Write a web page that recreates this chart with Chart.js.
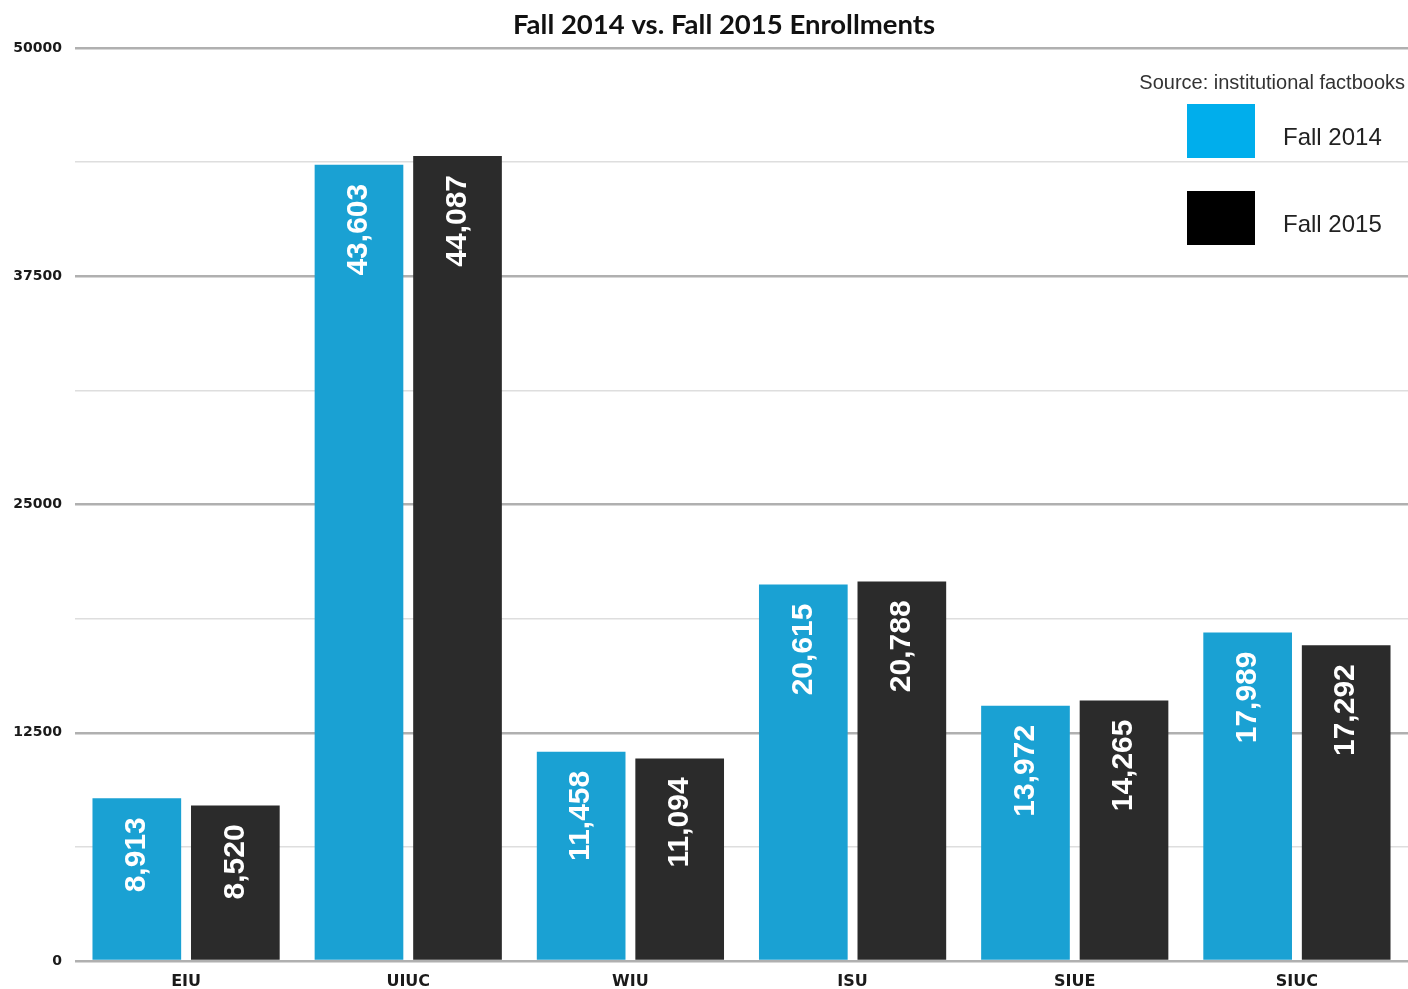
<!DOCTYPE html>
<html>
<head>
<meta charset="utf-8">
<title>Fall 2014 vs. Fall 2015 Enrollments</title>
<script src="https://cdn.jsdelivr.net/npm/chart.js@4.4.1/dist/chart.umd.min.js"></script>
<style>
	html, body { margin: 0; padding: 0; background: #fff; }
	canvas { display: block; }
</style>
</head>
<body>
<canvas id="enrollments" width="1408" height="989"></canvas>
<script>
let schools = ['EIU', 'UIUC', 'WIU', 'ISU', 'SIUE', 'SIUC'];
let fall2014 = [8913, 43603, 11458, 20615, 13972, 17989];
let fall2015 = [8520, 44087, 11094, 20788, 14265, 17292];
let seriesLabels = ['Fall 2014', 'Fall 2015'];
let chartTitle = 'Fall 2014 vs. Fall 2015 Enrollments';
let sourceNote = 'Source: institutional factbooks';

let barColors = ['#1aa1d3', '#2b2b2b'],
	swatchColors = ['#00aeec', '#000000'];

// value labels written upward inside the top of each bar
let barLabels = {
	id : 'barLabels',
	afterDatasetsDraw : function(chart) {
		let ctx = chart.ctx;
		ctx.save();
		ctx.fillStyle = '#ffffff';
		ctx.font = 'bold 30px "Liberation Sans", Arial, sans-serif';
		ctx.textAlign = 'right';
		ctx.textBaseline = 'middle';
		chart.data.datasets.forEach(function(ds, i) {
			chart.getDatasetMeta(i).data.forEach(function(bar, j) {
				ctx.save();
				ctx.translate(bar.x, bar.y + 19);
				ctx.rotate(-Math.PI / 2);
				ctx.fillText(ds.data[j].toLocaleString('en-US'), 0, 0);
				ctx.restore();
			});
		});
		ctx.restore();
	}
};

// title, source note and legend box in the upper right corner
let annotations = {
	id : 'annotations',
	afterDraw : function(chart) {
		let ctx = chart.ctx;
		ctx.save();
		ctx.fillStyle = '#111111';
		ctx.font = 'bold 27.5px Lato, "Open Sans", sans-serif';
		ctx.textAlign = 'center';
		ctx.textBaseline = 'middle';
		ctx.fillText(chartTitle, 724, 25);

		ctx.fillStyle = '#333333';
		ctx.font = '20px "Liberation Sans", Arial, sans-serif';
		ctx.textAlign = 'right';
		ctx.fillText(sourceNote, 1405, 83);

		ctx.textAlign = 'left';
		ctx.font = '24px "Liberation Sans", Arial, sans-serif';
		chart.data.datasets.forEach(function(ds, i) {
			let top = 104 + i * 87;
			ctx.fillStyle = swatchColors[i];
			ctx.fillRect(1187, top, 68, 54);
			ctx.fillStyle = '#222222';
			ctx.fillText(ds.label, 1283, top + 34);
		});
		ctx.restore();
	}
};

let enrollments = document.getElementById('enrollments').getContext('2d');

let chartEnrollments = new Chart(enrollments, {
	type    : 'bar',
	data    : {
		labels   : schools,
		datasets : [
			{
				label              : seriesLabels[0],
				data               : fall2014,
				backgroundColor    : barColors[0],
				categoryPercentage : 0.887,
				barPercentage      : 0.9
			},
			{
				label              : seriesLabels[1],
				data               : fall2015,
				backgroundColor    : barColors[1],
				categoryPercentage : 0.887,
				barPercentage      : 0.9
			}
		]
	},
	options : {
		responsive       : false,
		animation        : false,
		devicePixelRatio : 1,
		layout           : { padding : { left : 0, right : 0, top : 48, bottom : 0 } },
		plugins          : {
			legend  : { display : false },
			tooltip : { enabled : false },
			title   : { display : false }
		},
		scales           : {
			x : {
				afterFit : function(scale) { scale.height = 28; },
				grid     : { display : false, drawTicks : false },
				border   : { display : false },
				ticks    : {
					color   : '#1a1a1a',
					padding : 11,
					font    : { family : '"DejaVu Sans", sans-serif', size : 16, weight : 'bold' }
				}
			},
			y : {
				min      : 0,
				max      : 50000,
				afterFit : function(scale) { scale.width = 75; },
				border   : { display : false },
				grid     : {
					drawTicks : false,
					color     : function(context) {
						return context.tick && context.tick.value % 12500 === 0 ? '#b0b0b0' : '#dedede';
					},
					lineWidth : function(context) {
						return context.tick && context.tick.value % 12500 === 0 ? 2.5 : 1.5;
					}
				},
				ticks    : {
					stepSize : 6250,
					padding  : 13,
					color    : '#1a1a1a',
					font     : { family : '"DejaVu Sans", sans-serif', size : 14, weight : 'bold' },
					callback : function(value) {
						return value % 12500 === 0 ? value : '';
					}
				}
			}
		}
	},
	plugins : [barLabels, annotations]
});
</script>
</body>
</html>
